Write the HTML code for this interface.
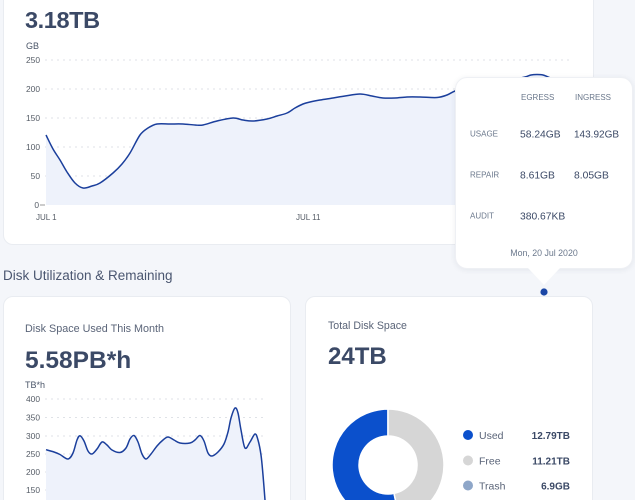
<!DOCTYPE html>
<html><head><meta charset="utf-8"><style>
html,body{margin:0;padding:0;width:635px;height:500px;overflow:hidden;}
body{background:#f4f6fa;position:relative;font-family:"Liberation Sans",sans-serif;}
.card{position:absolute;background:#fff;border:1px solid #e9ecf1;border-radius:10px;box-sizing:border-box;}
.t{position:absolute;white-space:nowrap;}
.big{font-weight:bold;font-size:24px;color:#3b4966;}
</style></head><body>
<div class="card" style="left:3px;top:-12px;width:591px;height:257px;"></div>
<div class="card" style="left:3px;top:296px;width:288px;height:214px;border-bottom-left-radius:0;border-bottom-right-radius:0;"></div>
<div class="card" style="left:305px;top:296px;width:288px;height:214px;border-bottom-left-radius:0;border-bottom-right-radius:0;"></div>

<div class="t big" style="left:25px;top:7px;font-size:23.5px;letter-spacing:-0.4px;">3.18TB</div>
<div class="t" style="left:3px;top:268px;font-size:13.5px;color:#4a5670;">Disk Utilization &amp; Remaining</div>
<div class="t" style="left:25px;top:323px;font-size:10.8px;color:#5a6478;">Disk Space Used This Month</div>
<div class="t big" style="left:25px;top:347px;font-size:24.5px;">5.58PB*h</div>
<div class="t" style="left:328px;top:320px;font-size:10.6px;color:#5a6478;">Total Disk Space</div>
<div class="t big" style="left:328px;top:343px;">24TB</div>

<svg style="position:absolute;left:0;top:0" width="635" height="500" viewBox="0 0 635 500">
 <g font-family="Liberation Sans, sans-serif" font-size="8.4" fill="#555c66">
  <text x="26" y="49" font-size="9" fill="#4a5568">GB</text>
  <text x="40" y="63" text-anchor="end">250</text>
  <text x="40" y="92" text-anchor="end">200</text>
  <text x="40" y="121" text-anchor="end">150</text>
  <text x="40" y="150" text-anchor="end">100</text>
  <text x="40" y="179" text-anchor="end">50</text>
  <text x="39" y="208" text-anchor="end">0</text>
  <text x="36" y="220" font-size="8">JUL 1</text>
  <text x="296" y="220" font-size="8">JUL 11</text>
 </g>
 <line x1="40" y1="205" x2="45" y2="205" stroke="#999" stroke-width="1"/>
 <g stroke="#dfe2e7" stroke-width="1" stroke-dasharray="2,4">
  <line x1="45" y1="60" x2="572" y2="60"/>
  <line x1="45" y1="89" x2="572" y2="89"/>
  <line x1="45" y1="118" x2="572" y2="118"/>
  <line x1="45" y1="147" x2="572" y2="147"/>
  <line x1="45" y1="176" x2="572" y2="176"/>
 </g>
 <path id="f1" fill="#eef2fb" d="M46 205 L46 135 L53 150 L60 157 L67 173 L75 184 L83 188 L92 186 L100 183 L113 173 L122 164 L130 153 L135 144 L140 135 L148 128 L157 124 L170 124 L183 124 L195 125 L203 125 L210 123 L217 121 L225 119 L233 118 L243 120 L253 121 L260 120 L267 119 L277 116 L287 113 L295 108 L303 104 L310 102 L320 100 L333 98 L345 96 L360 94 L372 96 L383 98 L395 98 L407 97 L420 97 L437 97.5 L447 95 L455 91 L470 86 L490 82 L510 80 L525 77 L537 75 L545 77 L560 82 L572 84 L572 205 Z"/>
 <polyline id="l1" fill="none" stroke="#1b3f9c" stroke-width="1.5" stroke-linejoin="round" points="46,135 53,149 60,160 67,172 75,183 83,188 92,186 100,183 113,173 122,164 130,153 140,135 148,128 157,124 170,124 183,124 195,125 203,125 217,121 233,118 243,120 253,121 267,119 277,116 287,113 295,108 303,104 310,102 320,100 333,98 345,96 360,94 372,96 383,98 395,98 407,97 420,97 437,97.5 447,95 455,91 470,86 490,82 510,80 525,77 531,75 537,74.5 543,75 548,77 560,82 572,84"/>

 <g font-family="Liberation Sans, sans-serif" font-size="8.4" fill="#555c66">
  <text x="25" y="388" font-size="9" fill="#4a5568">TB*h</text>
  <text x="40" y="402" text-anchor="end">400</text>
  <text x="40" y="420.5" text-anchor="end">350</text>
  <text x="40" y="439" text-anchor="end">300</text>
  <text x="40" y="457" text-anchor="end">250</text>
  <text x="40" y="475" text-anchor="end">200</text>
  <text x="40" y="493" text-anchor="end">150</text>
 </g>
 <g stroke="#dfe2e7" stroke-width="1" stroke-dasharray="2,4">
  <line x1="45" y1="399" x2="265" y2="399"/>
  <line x1="45" y1="417.5" x2="265" y2="417.5"/>
  <line x1="45" y1="436" x2="265" y2="436"/>
  <line x1="45" y1="454" x2="265" y2="454"/>
  <line x1="45" y1="472" x2="265" y2="472"/>
  <line x1="45" y1="490" x2="265" y2="490"/>
 </g>
 <path id="f2" fill="#eef2fb" d="M46 500 L46 449.7 L52 451 L58 453 L63 456 L68 459 L72 455 L76 442 L80 435.7 L84 440 L88 450 L92 454 L96 450 L99 445 L102 442 L106 444 L110 449 L115 452 L120 452.5 L125 449 L129 441 L134 435.5 L138 441 L142 453 L146 459 L150 455 L155 448 L161 442 L168 437 L174 440 L180 443 L190 443 L195 440 L200 435.5 L204 440 L208 452 L212 456 L217 453 L222 446 L227 435 L231 418 L235 408 L238 412 L241 430 L245 448 L249 444 L252 437 L255 434 L257 438 L259 446 L261 456 L263 475 L265 500 Z"/>
 <polyline id="l2" fill="none" stroke="#1b3f9c" stroke-width="1.5" stroke-linejoin="round" points="46,449.7 54,452 60,454.5 68,459 73,453 77,440 80,435.7 84,441 88,451 92,454 97,449 102,442 107,445 112,450 120,452.5 126,448 130,439 134,435.5 138,442 142,454 146,459 151,454 157,446 163,440 168,437 174,440 180,443 190,443 195,440 200,435.5 204,441 208,453 212,456 218,452 224,444 228,432 231,418 235,408 238,413 241,430 245,448 250,442 255,434 258,440 261,455 263,475 265,500"/>

 <path fill="#0b50cc" stroke="#fff" stroke-width="1.5" d="M388 409 A56 56 0 1 0 399.64 519.78 L394.03 493.37 A29 29 0 1 1 388 436 Z"/>
 <path fill="#d6d6d6" stroke="#fff" stroke-width="1.5" d="M388 409 A56 56 0 0 1 399.64 519.78 L394.03 493.37 A29 29 0 0 0 388 436 Z"/>

 <circle cx="468" cy="435" r="5" fill="#0b50cc"/>
 <circle cx="468" cy="460.5" r="5" fill="#d6d6d6"/>
 <circle cx="468" cy="485.5" r="5" fill="#8ea6c8"/>
 <g font-family="Liberation Sans, sans-serif" font-size="10.5" fill="#5a6478">
  <text x="479" y="439">Used</text>
  <text x="479" y="464.5">Free</text>
  <text x="479" y="489.5">Trash</text>
 </g>
 <g font-family="Liberation Sans, sans-serif" font-size="10" font-weight="bold" fill="#3b4966" text-anchor="end">
  <text x="570" y="439">12.79TB</text>
  <text x="570" y="464.5">11.21TB</text>
  <text x="570" y="489.5">6.9GB</text>
 </g>
</svg>

<div style="position:absolute;left:455px;top:77px;width:178px;height:192px;background:#fff;border-radius:12px;box-shadow:0 1px 6px rgba(40,50,80,0.08);border:1px solid #eef0f4;box-sizing:border-box;"></div>
<svg style="position:absolute;left:0;top:0" width="635" height="500" viewBox="0 0 635 500">
 <polygon points="528,268 560,268 544,285" fill="#fff"/>
 <circle cx="544" cy="292" r="3.6" fill="#1b47a6"/>
 <g font-family="Liberation Sans, sans-serif" font-size="8" fill="#6b788c">
  <text x="521" y="100">EGRESS</text>
  <text x="575" y="100">INGRESS</text>
  <text x="470" y="136.5">USAGE</text>
  <text x="470" y="177.5">REPAIR</text>
  <text x="470" y="218.5">AUDIT</text>
  <text x="544" y="256" text-anchor="middle" font-size="8.8">Mon, 20 Jul 2020</text>
 </g>
 <g font-family="Liberation Sans, sans-serif" font-size="10.3" fill="#3b4966">
  <text x="520" y="137.5">58.24GB</text>
  <text x="574" y="137.5" font-size="10">143.92GB</text>
  <text x="520" y="178.5">8.61GB</text>
  <text x="574" y="178.5">8.05GB</text>
  <text x="520" y="219.5">380.67KB</text>
 </g>
</svg>
<script>
(function(){
 function pts(el){return el.getAttribute('points').trim().split(/\s+/).map(function(s){return s.split(',').map(Number);});}
 function curve(p){
  var d='';
  for(var i=0;i<p.length-1;i++){
   var p0=p[i-1]||p[i],p1=p[i],p2=p[i+1],p3=p[i+2]||p2;
   var c1x=p1[0]+(p2[0]-p0[0])/6,c1y=p1[1]+(p2[1]-p0[1])/6;
   var c2x=p2[0]-(p3[0]-p1[0])/6,c2y=p2[1]-(p3[1]-p1[1])/6;
   d+=' C'+c1x.toFixed(2)+' '+c1y.toFixed(2)+' '+c2x.toFixed(2)+' '+c2y.toFixed(2)+' '+p2[0]+' '+p2[1];
  }
  return d;
 }
 [['l1','f1',205],['l2','f2',500]].forEach(function(a){
  try{
   var pl=document.getElementById(a[0]),f=document.getElementById(a[1]);
   var p=pts(pl),c=curve(p);
   var path=document.createElementNS('http://www.w3.org/2000/svg','path');
   path.setAttribute('d','M'+p[0][0]+' '+p[0][1]+c);
   path.setAttribute('fill','none');path.setAttribute('stroke','#1b3f9c');
   path.setAttribute('stroke-width','1.5');path.setAttribute('stroke-linejoin','round');
   pl.parentNode.replaceChild(path,pl);
   f.setAttribute('d','M'+p[0][0]+' '+a[2]+' L'+p[0][0]+' '+p[0][1]+c+' L'+p[p.length-1][0]+' '+a[2]+' Z');
  }catch(e){}
 });
})();
</script>
</body></html>
